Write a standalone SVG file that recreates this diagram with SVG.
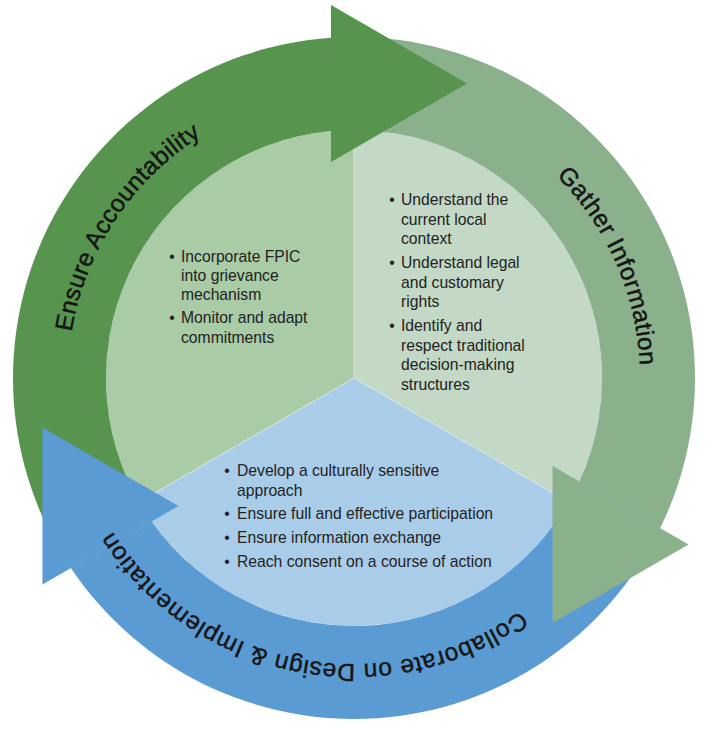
<svg xmlns="http://www.w3.org/2000/svg" width="714" height="730" viewBox="0 0 714 730">
  <defs>
    <style>
      .bul { font-family: "Liberation Sans", Arial, sans-serif; font-size: 15.7px; fill: #222222; }
      .dot { font-family: "Liberation Sans", Arial, sans-serif; font-size: 15.7px; fill: #222222; text-anchor: middle; }
      .lbl { font-family: "Liberation Sans", Arial, sans-serif; font-size: 24.5px; fill: #141414; stroke: #141414; stroke-width: 0.45px; }
      .div { stroke: #e8f0e8; stroke-width: 1; stroke-opacity: 0.7; }
    </style>
    <path id="arcEnsure" d="M157.1,585.5 A286,286 0 0 1 468.0,115.7"/>
    <path id="arcGather" d="M286.0,100.2 A286,286 0 0 1 512.9,615.8"/>
    <path id="arcCollab" d="M621.0,480.5 A286,286 0 0 1 68.0,373.0"/>
    <path id="ringBody" d="M70.86,568.03 A341,341 0 0 1 331,37.78 L331,131.07 A248,248 0 0 0 151.65,521.39 Z"/>
    <polygon id="ringHead" points="331,5 467,83.5 331,162"/>
  </defs>
  <rect width="714" height="730" fill="#ffffff"/>

  <g id="stage-accountability">
    <path d="M354,378 L139.23,502 A248,248 0 0 1 354,130 Z" fill="#a9cba5"/>
    <text class="dot" x="172" y="261.5">•</text>
    <text class="bul" x="181" y="261.5">Incorporate FPIC</text>
    <text class="bul" x="181" y="281">into grievance</text>
    <text class="bul" x="181" y="300">mechanism</text>
    <text class="dot" x="172" y="323">•</text>
    <text class="bul" x="181" y="323">Monitor and adapt</text>
    <text class="bul" x="181" y="342.5">commitments</text>
  </g>

  <g id="stage-gather">
    <path d="M354,378 L354,130 A248,248 0 0 1 568.77,502 Z" fill="#c3d8c5"/>
    <text class="dot" x="392" y="205">•</text>
    <text class="bul" x="401" y="205">Understand the</text>
    <text class="bul" x="401" y="224.5">current local</text>
    <text class="bul" x="401" y="244">context</text>
    <text class="dot" x="392" y="268">•</text>
    <text class="bul" x="401" y="268">Understand legal</text>
    <text class="bul" x="401" y="287.5">and customary</text>
    <text class="bul" x="401" y="307">rights</text>
    <text class="dot" x="392" y="331">•</text>
    <text class="bul" x="401" y="331">Identify and</text>
    <text class="bul" x="401" y="350.5">respect traditional</text>
    <text class="bul" x="401" y="370">decision-making</text>
    <text class="bul" x="401" y="389.5">structures</text>
  </g>

  <g id="stage-collaborate">
    <path d="M354,378 L568.77,502 A248,248 0 0 1 139.23,502 Z" fill="#a9cce9"/>
    <text class="dot" x="227" y="476">•</text>
    <text class="bul" x="237" y="476">Develop a culturally sensitive</text>
    <text class="bul" x="237" y="495.5">approach</text>
    <text class="dot" x="227" y="519">•</text>
    <text class="bul" x="237" y="519">Ensure full and effective participation</text>
    <text class="dot" x="227" y="543">•</text>
    <text class="bul" x="237" y="543">Ensure information exchange</text>
    <text class="dot" x="227" y="567">•</text>
    <text class="bul" x="237" y="567">Reach consent on a course of action</text>
  </g>

  <g id="dividers">
    <line class="div" x1="354" y1="378" x2="354" y2="130"/>
    <line class="div" x1="354" y1="378" x2="568.77" y2="502"/>
    <line class="div" x1="354" y1="378" x2="139.23" y2="502"/>
  </g>

  <g id="connectors">
    <use href="#ringBody" fill="#57954f"/>
    <use href="#ringBody" fill="#8ab08c" transform="rotate(120 354 378)"/>
    <use href="#ringBody" fill="#5b9bd3" transform="rotate(240 354 378)"/>
    <use href="#ringHead" fill="#57954f"/>
    <use href="#ringHead" fill="#8ab08c" transform="rotate(120 354 378)"/>
    <use href="#ringHead" fill="#5b9bd3" transform="rotate(240 354 378)"/>
  </g>

  <g id="arrow-labels">
    <text class="lbl"><textPath href="#arcEnsure" startOffset="50%" text-anchor="middle" textLength="242" lengthAdjust="spacing">Ensure Accountability</textPath></text>
    <text class="lbl"><textPath href="#arcGather" startOffset="50%" text-anchor="middle" textLength="212" lengthAdjust="spacing">Gather Information</textPath></text>
    <text class="lbl"><textPath href="#arcCollab" startOffset="50%" text-anchor="middle" textLength="465" lengthAdjust="spacing">Collaborate on Design &amp; Implementation</textPath></text>
  </g>
</svg>
